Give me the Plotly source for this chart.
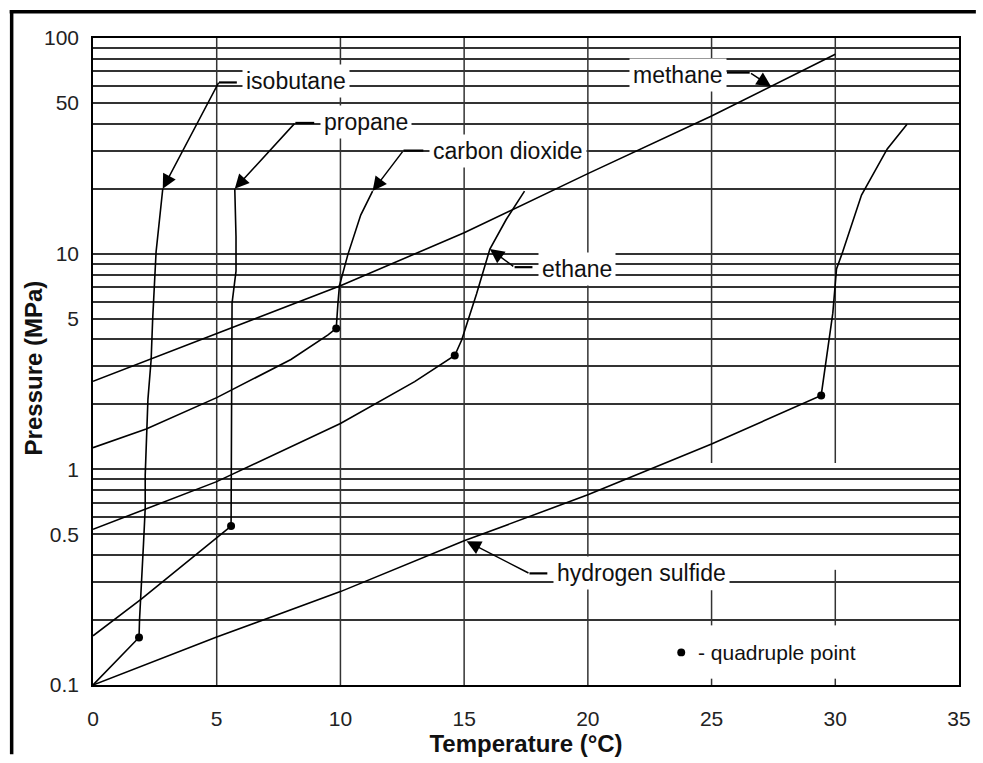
import math
import plotly.graph_objects as go

# ---------------- data ----------------
iso_T = [0, 1.86, 1.88, 1.95, 2.04, 2.11, 2.11, 2.22, 2.35, 2.41, 2.48, 2.55, 2.82]
iso_P = [0.1, 0.166, 0.2, 0.305, 0.45, 0.66, 0.94, 2.11, 3.23, 4.92, 6.98, 10.2, 20]

prop_T = [0, 1.95, 5.58, 5.6, 5.62, 5.78, 5.78, 5.73]
prop_P = [0.169, 0.25, 0.546, 3.0, 5.9, 8.3, 12.0, 20]

co2_T = [0, 2.15, 5, 8, 9.5, 9.83, 9.9, 9.96, 10.3, 10.82, 11.3]
co2_P = [1.26, 1.54, 2.15, 3.23, 4.2, 4.5, 5.9, 7.1, 9.9, 15.1, 19.5]

eth_T = [0, 5, 10, 11.4, 13, 14.62, 14.9, 15.5, 16.04, 16.7, 17.44]
eth_P = [0.527, 0.877, 1.63, 2.0, 2.55, 3.37, 3.98, 6.5, 10.5, 14.4, 19.5]

meth_T = [0, 5, 10, 15, 20, 25, 30]
meth_P = [2.56, 4.25, 7.1, 12.5, 23.5, 43.5, 84]

h2s_T = [0, 5, 10, 15, 20, 25, 29.43, 29.9, 30.05, 30.3, 31.06, 32.1, 32.9]
h2s_P = [0.1, 0.167, 0.271, 0.466, 0.762, 1.31, 2.2, 5.3, 8.5, 10.2, 18.7, 30.6, 39.8]

qp_T = [1.86, 5.58, 9.83, 14.62, 29.43]
qp_P = [0.166, 0.546, 4.5, 3.37, 2.2]

x_ticks = [0, 5, 10, 15, 20, 25, 30, 35]
y_ticks = [0.1, 0.5, 1, 5, 10, 50, 100]
y_ticktext = ["0.1", "0.5", "1", "5", "10", "50", "100"]
y_minor = [m * d for d in (0.1, 1, 10) for m in range(2, 10) if m * d not in y_ticks]

labels = ["isobutane", "propane", "carbon dioxide", "methane", "ethane", "hydrogen sulfide"]

# ---------------- geometry helpers ----------------
W, H = 983, 763
L, R, T, B = 93, 966, 38, 693
FONT = "Liberation Sans, Arial, sans-serif"
GRID = "#333333"
INK = "#111111"


def pxx(p):
    return (p - L) / (R - L)


def pxy(p):
    return (B - p) / (B - T)


def ylog(v):
    return (math.log10(v) + 1) / 3.0


fig = go.Figure()

curves = [(iso_T, iso_P), (prop_T, prop_P), (co2_T, co2_P),
          (eth_T, eth_P), (meth_T, meth_P), (h2s_T, h2s_P)]
for (tx, py), name in zip(curves, labels):
    fig.add_trace(go.Scatter(x=tx, y=py, mode="lines", name=name,
                             line=dict(color="#000000", width=1.6),
                             hoverinfo="skip"))

fig.add_trace(go.Scatter(x=qp_T, y=qp_P, mode="markers", name="quadruple point",
                         marker=dict(color="#000000", size=8), hoverinfo="skip"))

shapes = []
# vertical grid lines
for xv in [5, 10, 15, 20]:
    shapes.append(dict(type="line", xref="x", yref="paper", x0=xv, x1=xv, y0=0, y1=1,
                       line=dict(color=GRID, width=1.5), layer="below"))
for xv, segs in [(25, [(0.1, 0.107), (0.189, 0.275), (1.07, 100)]),
                 (30, [(0.1, 0.107), (0.189, 0.342), (1.07, 100)])]:
    for a, b in segs:
        shapes.append(dict(type="line", xref="x", yref="paper", x0=xv, x1=xv,
                           y0=ylog(a), y1=ylog(b),
                           line=dict(color=GRID, width=1.5), layer="below"))

# outer frame (top and left thick border)
shapes.append(dict(type="line", xref="paper", yref="paper", x0=pxx(9), x1=pxx(983),
                   y0=pxy(11.5), y1=pxy(11.5), line=dict(color="#000", width=3.5)))
shapes.append(dict(type="line", xref="paper", yref="paper", x0=pxx(11), x1=pxx(11),
                   y0=pxy(10), y1=pxy(763), line=dict(color="#000", width=3.5)))

annotations = []
# label: (text, text_left_px, text_center_py, bend_px, bend_py, stub_end_px, tip_T, tip_P)
label_geo = [
    ("isobutane", 243, 82, 220, 83, 238, 2.82, 20),
    ("propane", 322, 123, 297, 124, 316, 5.73, 20),
    ("carbon dioxide", 432, 152, 406, 152, 426, 11.3, 19.5),
    ("methane", 633, 75, 755, 73, 732, 27.4, 59.7),
    ("ethane", 542, 272, 518, 270, 536, 16.04, 10.5),
    ("hydrogen sulfide", 557, 580, 533, 580, 551, 15.1, 0.464),
]
for text, tl, tc, bx, by, sx, tT, tP in label_geo:
    annotations.append(dict(text=text, xref="paper", yref="paper", x=pxx(tl), y=pxy(tc),
                            xanchor="left", yanchor="middle", showarrow=False,
                            bgcolor="#ffffff", borderpad=3,
                            font=dict(family=FONT, size=23, color=INK)))
    shapes.append(dict(type="line", xref="paper", yref="paper", x0=pxx(bx), x1=pxx(sx),
                       y0=pxy(by), y1=pxy(by), line=dict(color="#000", width=2.2)))
    tip_px = L + tT / 35.0 * (R - L)
    tip_py = B - (math.log10(tP) + 1) / 3.0 * (B - T)
    annotations.append(dict(text="", xref="x", yref="y", x=tT, y=math.log10(tP),
                            ax=bx - tip_px, ay=by - tip_py, showarrow=True,
                            arrowhead=2, arrowsize=1.9, arrowwidth=1.5,
                            arrowcolor="#000", standoff=0))

# quadruple point key
shapes.append(dict(type="circle", xref="paper", yref="paper",
                   x0=pxx(682), x1=pxx(690), y0=pxy(656), y1=pxy(664),
                   fillcolor="#000", line=dict(color="#000", width=0)))
annotations.append(dict(text="- quadruple point", xref="paper", yref="paper",
                        x=pxx(702), y=pxy(660), xanchor="left", yanchor="middle",
                        showarrow=False, bgcolor="#ffffff", borderpad=0,
                        font=dict(family=FONT, size=21, color=INK)))

# y-axis title placed as rotated text
annotations.append(dict(text="<b>Pressure (MPa)</b>", xref="paper", yref="paper",
                        x=pxx(33), y=pxy(372), xanchor="center", yanchor="middle",
                        textangle=-90, showarrow=False,
                        font=dict(family=FONT, size=24, color=INK)))

fig.update_layout(
    width=W, height=H,
    margin=dict(l=L, r=W - R, t=T, b=H - B),
    paper_bgcolor="#ffffff", plot_bgcolor="#ffffff",
    showlegend=False,
    shapes=shapes, annotations=annotations,
    font=dict(family=FONT, color=INK),
)
fig.update_xaxes(range=[0, 35], tickvals=x_ticks, showgrid=False, zeroline=False,
                 showline=True, mirror=True, linecolor="#000", linewidth=1.6,
                 ticks="outside", ticklen=14, tickcolor="rgba(0,0,0,0)",
                 tickfont=dict(family=FONT, size=21, color="#222"),
                 title=dict(text="<b>Temperature (°C)</b>", standoff=4,
                            font=dict(family=FONT, size=24, color=INK)))
fig.update_yaxes(type="log", range=[-1, 2], tickvals=y_ticks, ticktext=y_ticktext,
                 showgrid=True, gridcolor=GRID, gridwidth=1.5, zeroline=False,
                 showline=True, mirror=True, linecolor="#000", linewidth=1.6,
                 ticks="outside", ticklen=8, tickcolor="rgba(0,0,0,0)",
                 tickfont=dict(family=FONT, size=21, color="#222"),
                 minor=dict(tickmode="array", tickvals=y_minor, showgrid=True,
                            gridcolor=GRID, gridwidth=1.5, ticks=""))

fig.write_html("out.html", config={"displayModeBar": False},
               post_script="document.body.style.margin='0';document.body.style.overflow='hidden';")
